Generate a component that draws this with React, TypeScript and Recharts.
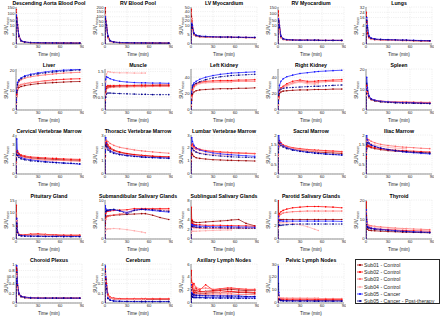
import React from 'react';
import { LineChart, Line, XAxis, YAxis, CartesianGrid } from 'recharts';

// frame times (min)
const TIME = [0, 0.5, 1, 2, 4, 7, 12, 20, 30, 40, 50, 55, 65, 75, 87];

const SUBJECTS = [
  'Sub01 - Control',
  'Sub02 - Control',
  'Sub03 - Control',
  'Sub04 - Control',
  'Sub05 - Cancer',
  'Sub05 - Cancer - Post-therapy',
];
const COLORS = ['#9c0000', '#ff0000', '#ff6161', '#ffa8a8', '#1414ff', '#00008c'];
const DASHES = [undefined, undefined, undefined, undefined, undefined, '2 1'];

const _ = null;

// SUVmean per organ, one row per subject (Sub01..Sub05 post)
const AORTA = [
  [0, 110, 60, 15, 4, 1.6, 0.9, 0.7, 0.6, 0.55, 0.5, 0.5, 0.5, 0.45, 0.45],
  [0, 130, 70, 18, 4.5, 1.8, 1, 0.75, 0.65, 0.6, 0.55, 0.55, 0.5, 0.5, 0.5],
  [0, 120, 55, 14, 3.8, 1.5, 0.9, 0.7, 0.6, 0.55, 0.5, 0.5, 0.45, 0.45, 0.4],
  [0, 100, 50, 12, 3.5, 1.4, 0.85, 0.65, 0.55, 0.5, 0.5, 0.45, _, _, _],
  [0, 90, 60, 16, 4.5, 1.8, 1.1, 0.8, 0.7, 0.6, 0.6, 0.55, 0.55, 0.5, 0.5],
  [0, 70, 45, 13, 4, 1.6, 1, 0.75, 0.65, 0.6, 0.55, 0.55, 0.5, 0.5, 0.45],
];
const RV_POOL = [
  [0, 150, 50, 12, 3.5, 1.5, 0.9, 0.7, 0.6, 0.55, 0.5, 0.5, 0.5, 0.45, 0.45],
  [0, 200, 60, 14, 4, 1.7, 1, 0.75, 0.65, 0.6, 0.55, 0.55, 0.5, 0.5, 0.5],
  [0, 170, 45, 11, 3.3, 1.4, 0.9, 0.7, 0.6, 0.55, 0.5, 0.5, 0.45, 0.45, 0.4],
  [0, 120, 40, 10, 3, 1.3, 0.85, 0.65, 0.55, 0.5, 0.5, 0.45, _, _, _],
  [0, 100, 55, 15, 4.5, 1.8, 1.1, 0.8, 0.7, 0.6, 0.6, 0.55, 0.55, 0.5, 0.5],
  [0, 80, 45, 12, 4, 1.6, 1, 0.75, 0.65, 0.6, 0.55, 0.55, 0.5, 0.5, 0.45],
];
const LV_MYO = [
  [0, 30, 20, 8, 5, 4.2, 3.9, 3.8, 3.7, 3.6, 3.6, 3.6, 3.5, 3.5, 3.4],
  [0, 45, 25, 9, 5.5, 4.5, 4.1, 3.9, 3.8, 3.7, 3.7, 3.7, 3.6, 3.6, 3.5],
  [0, 38, 20, 8, 5, 4.3, 4, 3.8, 3.7, 3.6, 3.6, 3.5, 3.5, 3.4, 3.4],
  [0, 25, 15, 7, 4.8, 4.1, 3.8, 3.7, 3.6, 3.5, 3.5, 3.5, _, _, _],
  [0, 12, 15, 10, 6, 4.8, 4.3, 4.1, 3.9, 3.8, 3.8, 3.7, 3.7, 3.6, 3.6],
  [0, 9, 12, 8.5, 5.5, 4.5, 4.1, 3.9, 3.8, 3.7, 3.7, 3.6, 3.6, 3.5, 3.5],
];
const RV_MYO = [
  [0, 90, 40, 8, 3.5, 2.5, 2.2, 2.1, 2, 2, 2, 2, 1.9, 1.9, 1.9],
  [0, 120, 50, 10, 4, 2.7, 2.3, 2.2, 2.1, 2.1, 2, 2, 2, 2, 2],
  [0, 100, 40, 8, 3.5, 2.5, 2.2, 2.1, 2, 2, 1.9, 1.9, 1.9, 1.9, 1.8],
  [0, 70, 30, 7, 3.2, 2.4, 2.1, 2, 2, 1.9, 1.9, 1.9, _, _, _],
  [0, 60, 45, 11, 4.5, 2.9, 2.4, 2.2, 2.1, 2.1, 2.1, 2, 2, 2, 2],
  [0, 45, 35, 9, 4, 2.7, 2.3, 2.1, 2, 2, 2, 2, 1.9, 1.9, 1.9],
];
const LUNGS = [
  [0, 18, 8, 2.2, 1.4, 1.1, 1, 0.9, 0.85, 0.8, 0.75, 0.75, 0.7, 0.7, 0.65],
  [0, 24, 10, 2.5, 1.5, 1.2, 1, 0.95, 0.9, 0.85, 0.8, 0.8, 0.75, 0.7, 0.7],
  [0, 20, 8, 2, 1.3, 1.1, 0.95, 0.9, 0.85, 0.8, 0.75, 0.75, 0.7, 0.7, 0.65],
  [0, 14, 6, 1.8, 1.2, 1, 0.9, 0.85, 0.8, 0.75, 0.7, 0.7, _, _, _],
  [0, 12, 16, 4, 1.8, 1.3, 1.1, 1, 0.95, 0.9, 0.85, 0.85, 0.8, 0.75, 0.7],
  [0, 9, 12, 3.5, 1.6, 1.2, 1, 0.95, 0.9, 0.85, 0.8, 0.8, 0.75, 0.7, 0.7],
];
const LIVER = [
  [0, 3, 7, 10, 11.5, 12, 12.5, 13, 13.5, 13.8, 14, 14.1, 14.3, 14.5, 14.6],
  [0, 4, 8, 11, 12.5, 13, 13.5, 14, 14.5, 15, 15.3, 15.5, 15.7, 15.9, 16],
  [0, 4, 9, 13, 14.5, 15.5, 16.3, 17, 17.6, 18, 18.4, 18.6, 18.9, 19.1, 19.3],
  [0, 3, 7, 11, 12.5, 13, 13.5, 14, 14.5, 14.8, 15, 15.1, _, _, _],
  [0, 5, 10, 14, 15.5, 16.5, 17.5, 18.3, 19, 19.5, 20, 20.1, 20.4, 20.6, 20.8],
  [0, 4, 9, 13, 15, 16, 17, 17.8, 18.5, 19, 19.4, 19.6, 19.9, 20.2, 20.5],
];
const MUSCLE = [
  [0, 0.4, 0.7, 0.85, 0.9, 0.91, 0.92, 0.93, 0.93, 0.94, 0.94, 0.94, 0.95, 0.95, 0.95],
  [0, 0.5, 0.8, 0.92, 0.95, 0.95, 0.95, 0.96, 0.96, 0.96, 0.97, 0.97, 0.97, 0.98, 0.98],
  [0, 0.4, 0.65, 0.8, 0.86, 0.88, 0.89, 0.9, 0.9, 0.91, 0.91, 0.91, 0.92, 0.92, 0.92],
  [0, 0.6, 1.1, 1.4, 1.5, 1.48, 1.46, 1.45, 1.45, 1.44, 1.44, 1.44, _, _, _],
  [0, 0.8, 1.2, 1.3, 1.27, 1.22, 1.17, 1.12, 1.09, 1.07, 1.06, 1.06, 1.05, 1.05, 1.04],
  [0, 0.3, 0.5, 0.62, 0.66, 0.66, 0.65, 0.64, 0.63, 0.62, 0.61, 0.61, 0.6, 0.6, 0.6],
];
const L_KIDNEY = [
  [0, 5, 12, 19, 22, 23.5, 24.5, 25, 25.5, 26, 26, 26, 26.5, 26.5, 27],
  [0, 8, 18, 25, 29, 32, 34, 35, 35.5, 36, 36, 36, 36.5, 36.5, 37],
  [0, 7, 16, 24, 28, 31, 33, 34, 34, 34.5, 34.5, 34.5, 35, 35, 35],
  [0, 6, 15, 22, 27, 30, 32, 33, 33.5, 33.5, 34, 34, _, _, _],
  [0, 10, 22, 30, 33, 35, 37.5, 40, 42, 43.5, 44.5, 45, 45.5, 46, 46.5],
  [0, 8, 20, 28, 31, 32.5, 34.5, 37, 39, 40.5, 41.5, 42, 42.5, 43, 43.5],
];
const R_KIDNEY = [
  [0, 6, 14, 20, 22, 23, 23.5, 24, 24.5, 24.5, 25, 25, 25, 25.5, 25.5],
  [0, 7, 16, 24, 27, 29, 32, 35, 36.5, 35, 35, 35.5, 36, 36.5, 37],
  [0, 7, 15, 23, 26, 28, 30.5, 33, 35, 33.5, 33, 34, 34.5, 35, 35],
  [0, 6, 14, 22, 26, 27, 29, 32, 34, 32, 31.5, 32, _, _, _],
  [0, 10, 22, 30, 35, 38, 40.5, 42.5, 44.5, 45.5, 46.5, 47, 47.5, 48, 48.5],
  [0, 8, 18, 24, 25.5, 26.5, 27, 27.5, 28, 28.5, 29, 29, 29.5, 30, 30.5],
];
const SPLEEN = [
  [0, 8, 11, 8, 6, 5, 4.4, 4, 3.8, 3.6, 3.5, 3.5, 3.4, 3.3, 3.2],
  [0, 10, 12, 9, 6.5, 5.3, 4.7, 4.3, 4.1, 3.9, 3.8, 3.8, 3.7, 3.6, 3.5],
  [0, 9, 11, 8.5, 6.2, 5.2, 4.6, 4.3, 4.1, 4, 3.9, 3.9, 3.8, 3.8, 3.7],
  [0, 7, 10, 7.5, 5.8, 5, 4.5, 4.2, 4, 3.9, 3.8, 3.8, _, _, _],
  [0, 10, 16, 11, 7, 5.5, 4.8, 4.3, 4, 3.8, 3.6, 3.6, 3.5, 3.4, 3.3],
  [0, 8, 13, 9.5, 6.5, 5.2, 4.5, 4, 3.7, 3.5, 3.4, 3.4, 3.3, 3.2, 3.1],
];
const CERVICAL = [
  [0, 1.2, 2.0, 2.2, 2.0, 1.85, 1.75, 1.65, 1.6, 1.55, 1.5, 1.5, 1.45, 1.42, 1.4],
  [0, 1.5, 2.3, 2.4, 2.1, 1.95, 1.85, 1.75, 1.7, 1.65, 1.6, 1.6, 1.55, 1.52, 1.5],
  [0, 1.2, 2.0, 2.1, 1.9, 1.8, 1.7, 1.6, 1.5, 1.45, 1.42, 1.4, 1.38, 1.35, 1.3],
  [0, 1.0, 1.8, 2.0, 1.85, 1.7, 1.6, 1.5, 1.45, 1.4, 1.35, 1.35, _, _, _],
  [0, 2.0, 3.6, 2.3, 1.9, 1.7, 1.55, 1.45, 1.35, 1.28, 1.2, 1.18, 1.12, 1.08, 1.0],
  [0, 1.5, 2.0, 1.9, 1.7, 1.55, 1.45, 1.35, 1.28, 1.22, 1.18, 1.16, 1.12, 1.1, 1.05],
];
const THORACIC = [
  [0, 1.3, 2.2, 2.3, 2.1, 1.95, 1.8, 1.65, 1.55, 1.48, 1.42, 1.4, 1.35, 1.32, 1.3],
  [0, 1.4, 2.4, 2.5, 2.25, 2.05, 1.85, 1.7, 1.58, 1.5, 1.44, 1.42, 1.38, 1.35, 1.32],
  [0, 1.5, 2.5, 2.6, 2.5, 2.35, 2.2, 2.05, 1.95, 1.85, 1.78, 1.75, 1.7, 1.65, 1.6],
  [0, 1.2, 2.0, 2.1, 1.95, 1.8, 1.65, 1.52, 1.45, 1.4, 1.36, 1.35, _, _, _],
  [0, 1.8, 2.8, 2.4, 2.0, 1.8, 1.65, 1.52, 1.43, 1.37, 1.32, 1.3, 1.27, 1.25, 1.22],
  [0, 1.4, 2.2, 2.1, 1.85, 1.7, 1.58, 1.48, 1.4, 1.35, 1.3, 1.28, 1.25, 1.23, 1.2],
];
const LUMBAR = [
  [0, 1.0, 1.6, 1.5, 1.35, 1.25, 1.2, 1.15, 1.1, 1.08, 1.05, 1.05, 1.03, 1.02, 1.0],
  [0, 1.4, 2.2, 2.3, 2.1, 2.0, 1.9, 1.8, 1.75, 1.7, 1.67, 1.65, 1.62, 1.6, 1.58],
  [0, 1.3, 2.1, 2.2, 2.0, 1.9, 1.82, 1.75, 1.7, 1.66, 1.63, 1.62, 1.6, 1.58, 1.55],
  [0, 1.1, 1.8, 1.9, 1.8, 1.7, 1.62, 1.55, 1.5, 1.47, 1.45, 1.44, _, _, _],
  [0, 1.8, 2.8, 2.5, 2.2, 2.0, 1.85, 1.72, 1.62, 1.55, 1.5, 1.48, 1.44, 1.4, 1.36],
  [0, 1.3, 2.0, 1.95, 1.8, 1.68, 1.58, 1.5, 1.43, 1.38, 1.34, 1.32, 1.3, 1.28, 1.25],
];
const SACRAL = [
  [0, 0.9, 1.4, 1.55, 1.5, 1.42, 1.35, 1.28, 1.22, 1.18, 1.14, 1.12, 1.1, 1.08, 1.05],
  [0, 1.0, 1.6, 1.7, 1.6, 1.5, 1.42, 1.35, 1.3, 1.26, 1.23, 1.22, 1.2, 1.18, 1.15],
  [0, 1.0, 1.5, 1.65, 1.55, 1.48, 1.4, 1.33, 1.28, 1.24, 1.2, 1.19, 1.17, 1.15, 1.12],
  [0, 0.9, 1.4, 1.55, 1.5, 1.43, 1.37, 1.3, 1.25, 1.2, 1.17, 1.16, _, _, _],
  [0, 1.4, 2.0, 1.7, 1.55, 1.45, 1.35, 1.25, 1.17, 1.12, 1.08, 1.06, 1.03, 1.0, 0.97],
  [0, 1.1, 1.6, 1.55, 1.45, 1.38, 1.3, 1.22, 1.16, 1.11, 1.07, 1.05, 1.02, 1.0, 0.98],
];
const ILIAC = [
  [0, 0.8, 1.3, 1.45, 1.4, 1.35, 1.3, 1.25, 1.2, 1.17, 1.15, 1.14, 1.12, 1.1, 1.08],
  [0, 0.9, 1.4, 1.5, 1.45, 1.4, 1.35, 1.3, 1.25, 1.22, 1.2, 1.19, 1.17, 1.15, 1.13],
  [0, 1.1, 1.7, 1.8, 1.75, 1.68, 1.6, 1.52, 1.46, 1.42, 1.38, 1.37, 1.35, 1.32, 1.3],
  [0, 1.0, 1.5, 1.65, 1.6, 1.55, 1.48, 1.42, 1.37, 1.33, 1.3, 1.29, _, _, _],
  [0, 1.3, 2.0, 1.75, 1.6, 1.5, 1.42, 1.33, 1.25, 1.19, 1.14, 1.12, 1.09, 1.06, 1.03],
  [0, 1.0, 1.5, 1.6, 1.55, 1.48, 1.4, 1.32, 1.26, 1.21, 1.17, 1.15, 1.12, 1.1, 1.07],
];
const PITUITARY = [
  [0, 8, 5, 2.5, 1.6, 1.4, 1.4, 1.5, 1.6, 1.5, 1.4, 1.4, 1.3, 1.3, 1.3],
  [0, 13, 7, 3, 1.8, 1.6, 1.6, 1.9, 2.0, 1.8, 1.6, 1.6, 1.5, 1.5, 1.5],
  [0, 10, 6, 2.8, 1.7, 1.5, 1.5, 1.7, 1.8, 1.6, 1.5, 1.5, 1.4, 1.4, 1.4],
  [0, 7, 4, 2.2, 1.5, 1.3, 1.3, 1.4, 1.5, 1.4, 1.3, 1.3, _, _, _],
  [0, 6, 8, 3, 1.6, 1.3, 1.2, 1.1, 1.1, 1.0, 1.0, 1.0, 1.0, 0.95, 0.95],
  [0, 4, 6, 2.5, 1.4, 1.2, 1.1, 1.0, 1.0, 0.95, 0.95, 0.95, 0.9, 0.9, 0.9],
];
const SUBMAND = [
  [0, 4, 5.5, 5.8, 5.9, 6.0, 6.1, 6.2, 6.3, 6.4, 6.5, 6.5, 6.1, 5.5, 5.0],
  [0, 5, 6.5, 7.0, 7.1, 7.2, 7.3, 7.4, 7.5, 7.8, 7.8, 7.8, 7.8, 7.8, 7.8],
  [0, 3, 5, 5.6, 5.8, 6.0, 6.2, 6.4, 6.8, 7.4, 7.6, 7.6, 7.6, 7.5, 7.4],
  [0, 1.5, 2.3, 2.5, 2.6, 2.6, 2.7, 2.6, 2.4, 2.1, 1.8, 1.6, _, _, _],
  [0, 8.5, 7.8, 7.4, 7.3, 7.4, 7.5, 7.2, 6.8, 7.4, 7.6, 7.5, 7.3, 7.1, 6.9],
  [0, 6, 7, 7.2, 7.4, 7.5, 7.6, 7.3, 6.4, 7.3, 7.6, 7.6, 7.5, 7.3, 7.1],
];
const SUBLING = [
  [0, 3, 3.8, 3.7, 3.5, 3.4, 3.4, 3.5, 3.6, 3.7, 3.8, 3.9, 4.0, 3.2, 2.7],
  [0, 6.5, 4, 3.2, 3.0, 2.9, 2.9, 2.8, 2.8, 2.8, 2.75, 2.75, 2.7, 2.7, 2.6],
  [0, 2, 2.5, 2.4, 2.3, 2.3, 2.2, 2.2, 2.2, 2.2, 2.2, 2.2, 2.2, 2.2, 2.2],
  [0, 1.2, 1.6, 1.6, 1.6, 1.6, 1.65, 1.7, 1.75, 1.8, 1.85, 1.85, _, _, _],
  [0, 2.5, 3.0, 2.9, 2.8, 2.7, 2.6, 2.6, 2.5, 2.5, 2.5, 2.5, 2.45, 2.45, 2.4],
  [0, 2.0, 2.6, 2.6, 2.5, 2.4, 2.35, 2.3, 2.3, 2.3, 2.25, 2.25, 2.25, 2.2, 2.2],
];
const PAROTID = [
  [0, 2.0, 2.8, 2.9, 3.0, 3.0, 3.0, 3.0, 3.0, 3.0, 3.0, 3.0, 3.0, 3.0, 3.0],
  [0, 6, 3.5, 3.9, 4.2, 4.4, 4.6, 4.8, 4.9, 5.0, 5.0, 5.0, 4.95, 4.9, 4.8],
  [0, 2.5, 3.2, 3.6, 3.8, 4.0, 4.1, 4.2, 4.25, 4.3, 4.3, 4.3, 4.3, 4.3, 4.3],
  [0, 1.6, 2.3, 2.5, 2.5, 2.5, 2.5, 2.4, 2.2, 1.9, 1.5, 1.3, _, _, _],
  [0, 3.5, 3.0, 2.8, 2.8, 2.75, 2.75, 2.75, 2.75, 2.75, 2.75, 2.75, 2.75, 2.75, 2.7],
  [0, 2.5, 2.2, 2.1, 2.1, 2.15, 2.2, 2.25, 2.3, 2.3, 2.3, 2.3, 2.3, 2.3, 2.3],
];
const THYROID = [
  [0, 12, 7, 5, 4.5, 4.3, 4.2, 4.0, 3.8, 3.7, 3.5, 3.5, 3.4, 3.3, 3.2],
  [0, 19, 10, 7, 6, 5.5, 5.2, 5.0, 4.8, 4.6, 4.4, 4.3, 4.2, 4.1, 4.0],
  [0, 14, 9, 7.5, 7, 6.8, 6.5, 6.2, 5.9, 5.6, 5.4, 5.3, 5.1, 5.0, 4.8],
  [0, 10, 8, 7, 6.7, 6.5, 6.2, 5.9, 5.6, 5.4, 5.2, 5.1, _, _, _],
  [0, 15, 9, 6.5, 6, 5.6, 5.3, 5.0, 4.6, 4.3, 4.0, 3.9, 3.7, 3.6, 3.4],
  [0, 10, 7.5, 6, 5.5, 5.2, 4.9, 4.6, 4.3, 4.0, 3.8, 3.7, 3.5, 3.4, 3.2],
];
const CHOROID = [
  [0, 0.7, 0.85, 0.35, 0.18, 0.13, 0.11, 0.1, 0.1, 0.1, 0.1, 0.1, 0.1, 0.1, 0.1],
  [0, 0.9, 0.8, 0.38, 0.19, 0.14, 0.12, 0.11, 0.11, 0.1, 0.1, 0.1, 0.1, 0.1, 0.1],
  [0, 0.75, 0.7, 0.33, 0.17, 0.13, 0.11, 0.1, 0.1, 0.1, 0.1, 0.1, 0.1, 0.1, 0.1],
  [0, 0.6, 0.65, 0.3, 0.16, 0.12, 0.11, 0.1, 0.1, 0.1, 0.1, 0.1, _, _, _],
  [0, 0.5, 0.95, 0.4, 0.2, 0.14, 0.12, 0.11, 0.1, 0.1, 0.1, 0.1, 0.1, 0.1, 0.1],
  [0, 0.4, 0.75, 0.36, 0.18, 0.13, 0.11, 0.1, 0.1, 0.1, 0.1, 0.1, 0.1, 0.1, 0.1],
];
const CEREBRUM = [
  [0, 2.5, 1.0, 0.2, 0.08, 0.05, 0.04, 0.04, 0.035, 0.035, 0.035, 0.035, 0.035, 0.035, 0.035],
  [0, 3, 1.2, 0.22, 0.09, 0.06, 0.05, 0.045, 0.045, 0.045, 0.045, 0.045, 0.045, 0.045, 0.045],
  [0, 2.2, 0.8, 0.18, 0.08, 0.055, 0.045, 0.04, 0.04, 0.04, 0.04, 0.04, 0.04, 0.04, 0.04],
  [0, 1.8, 0.6, 0.16, 0.07, 0.05, 0.04, 0.035, 0.035, 0.035, 0.035, 0.035, _, _, _],
  [0, 3.6, 1.5, 0.18, 0.05, 0.03, 0.02, 0.018, 0.016, 0.015, 0.015, 0.015, 0.015, 0.015, 0.015],
  [0, 2.5, 1.0, 0.15, 0.045, 0.028, 0.02, 0.017, 0.015, 0.015, 0.014, 0.014, 0.014, 0.014, 0.014],
];
// two nodes per subject
const AXILLARY = [
  [0, 2.5, 1.8, 2.2, 1.5, 1.9, 1.7, 1.8, 1.9, 2.0, 2.1, 2.1, 2.0, 1.9, 1.9],
  [0, 1.5, 2.6, 1.4, 2.0, 1.6, 1.5, 1.5, 1.6, 1.6, 1.7, 1.7, 1.6, 1.6, 1.5],
  [0, 5, 3.2, 2.5, 3.0, 2.2, 2.0, 2.8, 2.0, 2.2, 2.3, 2.3, 2.2, 2.1, 2.1],
  [0, 3.5, 2.0, 2.8, 1.6, 1.9, 1.8, 1.7, 1.8, 1.9, 1.8, 1.8, 1.7, 1.7, 1.6],
  [0, 4, 2.6, 3.1, 2.1, 2.4, 2.2, 2.3, 2.1, 2.2, 2.3, 2.3, 2.2, 2.1, 2.0],
  [0, 2, 1.4, 1.9, 1.2, 1.5, 1.4, 1.3, 1.4, 1.4, 1.4, 1.4, 1.3, 1.3, 1.3],
  [0, 3, 2.2, 1.7, 2.4, 1.8, 1.6, 1.7, 1.7, 1.6, 1.6, 1.6, _, _, _],
  [0, 1.8, 1.2, 1.5, 1.0, 1.3, 1.2, 1.2, 1.2, 1.2, 1.1, 1.1, _, _, _],
  [0, 2.8, 1.6, 1.4, 1.3, 1.2, 1.2, 1.1, 1.1, 1.1, 1.1, 1.1, 1.1, 1.0, 1.0],
  [0, 1.6, 1.2, 1.0, 0.9, 0.9, 0.85, 0.85, 0.8, 0.8, 0.8, 0.8, 0.8, 0.8, 0.8],
  [0, 2.0, 1.4, 1.3, 1.2, 1.2, 1.1, 1.1, 1.1, 1.05, 1.05, 1.05, 1.0, 1.0, 1.0],
  [0, 1.2, 1.0, 0.9, 0.8, 0.8, 0.8, 0.75, 0.75, 0.75, 0.75, 0.75, 0.7, 0.7, 0.7],
];
const AXILLARY_SUBJ = [0, 0, 1, 1, 2, 2, 3, 3, 4, 4, 5, 5];
const PELVIC = [
  [0, 5, 3, 2.5, 2.2, 2.1, 2.0, 2.0, 2.0, 2.0, 2.0, 2.0, 2.0, 2.0, 2.0],
  [0, 8, 4, 3.2, 3.0, 2.9, 2.8, 2.8, 2.8, 2.8, 2.7, 2.7, 2.7, 2.7, 2.7],
  [0, 6, 4.5, 3.8, 3.6, 3.5, 3.5, 3.5, 3.4, 3.4, 3.4, 3.4, 3.4, 3.4, 3.4],
  [0, 5, 4.5, 4.2, 4.0, 4.0, 4.0, 4.0, 4.0, 3.9, 3.9, 3.9, _, _, _],
  [0, 28, 8, 3, 2, 1.8, 1.7, 1.6, 1.6, 1.6, 1.5, 1.5, 1.5, 1.5, 1.5],
  [0, 15, 6, 2.5, 1.8, 1.6, 1.5, 1.5, 1.4, 1.4, 1.4, 1.4, 1.4, 1.4, 1.4],
];

type PanelCfg = {
  title: string;
  series: (number | null)[][];
  top: number;
  ticks: number[];
  brk?: number; // broken axis: 0..brk fills the lower half
  subj?: number[];
};

const PANELS: PanelCfg[] = [
  { title: 'Descending Aorta Blood Pool', series: AORTA, top: 150, brk: 10, ticks: [0, 5, 10, 50, 100, 150] },
  { title: 'RV Blood Pool', series: RV_POOL, top: 200, brk: 10, ticks: [0, 5, 10, 50, 100, 150, 200] },
  { title: 'LV Myocardium', series: LV_MYO, top: 50, brk: 10, ticks: [0, 5, 10, 20, 30, 40, 50] },
  { title: 'RV Myocardium', series: RV_MYO, top: 150, brk: 10, ticks: [0, 5, 10, 50, 100, 150] },
  { title: 'Lungs', series: LUNGS, top: 32, brk: 4, ticks: [0, 2, 4, 16, 24, 32] },
  { title: 'Liver', series: LIVER, top: 21, ticks: [0, 10, 20] },
  { title: 'Muscle', series: MUSCLE, top: 1.6, ticks: [0, 0.5, 1, 1.5] },
  { title: 'Left Kidney', series: L_KIDNEY, top: 50, ticks: [0, 20, 40] },
  { title: 'Right Kidney', series: R_KIDNEY, top: 50, ticks: [0, 20, 40] },
  { title: 'Spleen', series: SPLEEN, top: 20, ticks: [0, 10, 20] },
  { title: 'Cervical Vertebrae Marrow', series: CERVICAL, top: 4, ticks: [0, 1, 2, 3, 4] },
  { title: 'Thoracic Vertebrae Marrow', series: THORACIC, top: 3, ticks: [0, 1, 2, 3] },
  { title: 'Lumbar Vertebrae Marrow', series: LUMBAR, top: 3, ticks: [0, 1, 2, 3] },
  { title: 'Sacral Marrow', series: SACRAL, top: 2, ticks: [0, 0.5, 1, 1.5, 2] },
  { title: 'Iliac Marrow', series: ILIAC, top: 2, ticks: [0, 0.5, 1, 1.5, 2] },
  { title: 'Pituitary Gland', series: PITUITARY, top: 15, ticks: [0, 5, 10, 15] },
  { title: 'Submandibular Salivary Glands', series: SUBMAND, top: 10, ticks: [0, 5, 10] },
  { title: 'Sublingual Salivary Glands', series: SUBLING, top: 8, ticks: [0, 2, 4, 6, 8] },
  { title: 'Parotid Salivary Glands', series: PAROTID, top: 6, ticks: [0, 2, 4, 6] },
  { title: 'Thyroid', series: THYROID, top: 20, ticks: [0, 10, 20] },
  { title: 'Choroid Plexus', series: CHOROID, top: 1, brk: 0.4, ticks: [0, 0.2, 0.4, 0.6, 0.8, 1] },
  { title: 'Cerebrum', series: CEREBRUM, top: 4, brk: 0.2, ticks: [0, 0.1, 0.2, 1, 2, 3, 4] },
  { title: 'Axillary Lymph Nodes', series: AXILLARY, subj: AXILLARY_SUBJ, top: 6, ticks: [0, 2, 4, 6] },
  { title: 'Pelvic Lymph Nodes', series: PELVIC, top: 30, ticks: [0, 10, 20, 30] },
];

const COL_X = [16, 105, 191, 278, 366];
const ROW_TOP = [7, 69, 135, 200, 264];
const ROW_H = [37, 41, 39, 39, 39];
const PLOT_W = 66;
const YW = 14;
const XH = 8;
const INK = '#262626';

function Panel({ cfg, idx }: { cfg: PanelCfg; idx: number }) {
  const col = idx % 5;
  const row = Math.floor(idx / 5);
  const left = COL_X[col];
  const top = ROW_TOP[row];
  const h = ROW_H[row];

  const tf = (v: number) => {
    if (!cfg.brk) return v;
    return v <= cfg.brk ? (0.5 * v) / cfg.brk : 0.5 + (0.5 * (v - cfg.brk)) / (cfg.top - cfg.brk);
  };
  const data = TIME.map((t, i) => {
    const d: any = { t };
    cfg.series.forEach((s, k) => {
      d['s' + k] = s[i] == null ? null : tf(s[i] as number);
    });
    return d;
  });
  const yMax = cfg.brk ? 1 : cfg.top;

  return (
    <>
      <div
        style={{
          position: 'absolute',
          left: left + PLOT_W / 2,
          top: top - 7,
          transform: 'translateX(-50%)',
          fontSize: 5.2,
          fontWeight: 'bold',
          lineHeight: '6px',
          whiteSpace: 'nowrap',
        }}
      >
        {cfg.title}
      </div>
      <div
        style={{
          position: 'absolute',
          left: left - 9,
          top: top + h / 2,
          transform: 'translate(-50%, -50%) rotate(-90deg)',
          fontSize: 4.6,
          lineHeight: '5px',
          whiteSpace: 'nowrap',
          color: INK,
        }}
      >
        SUV<span style={{ fontSize: 3.2, position: 'relative', top: 1 }}>mean</span>
      </div>
      <div
        style={{
          position: 'absolute',
          left: left + PLOT_W / 2,
          top: top + h + 7.5,
          transform: 'translateX(-50%)',
          fontSize: 4.6,
          lineHeight: '5px',
          whiteSpace: 'nowrap',
          color: INK,
        }}
      >
        Time (min)
      </div>
      <div style={{ position: 'absolute', left: left - YW, top: top - 2 }}>
        <LineChart
          width={YW + PLOT_W + 2}
          height={h + 2 + XH}
          data={data}
          margin={{ top: 2, right: 2, bottom: 0, left: 0 }}
        >
          <CartesianGrid stroke="#cfcfcf" strokeWidth={0.5} strokeDasharray="0.6 1.2" />
          <XAxis
            dataKey="t"
            type="number"
            domain={[0, 90]}
            ticks={[0, 30, 60, 90]}
            allowDataOverflow
            interval={0}
            height={XH}
            tickLine={false}
            tickSize={0}
            tickMargin={1.5}
            tick={{ fontSize: 4.2, fill: INK }}
            axisLine={{ stroke: INK, strokeWidth: 0.5 }}
          />
          <YAxis
            type="number"
            domain={[0, yMax]}
            ticks={cfg.ticks.map(tf)}
            tickFormatter={(_v: number, i: number) => String(cfg.ticks[i])}
            allowDataOverflow
            interval={0}
            width={YW}
            tickLine={false}
            tickSize={0}
            tickMargin={1.5}
            tick={{ fontSize: 4.2, fill: INK }}
            axisLine={{ stroke: INK, strokeWidth: 0.5 }}
          />
          {cfg.series.map((_s, k) => {
            const g = cfg.subj ? cfg.subj[k] : k;
            return (
              <Line
                key={k}
                dataKey={'s' + k}
                stroke={COLORS[g]}
                strokeWidth={0.7}
                strokeDasharray={DASHES[g]}
                dot={{ r: 0.8, fill: COLORS[g], stroke: 'none' }}
                connectNulls={false}
                isAnimationActive={false}
              />
            );
          })}
        </LineChart>
      </div>
    </>
  );
}

function LegendBox() {
  return (
    <div
      style={{
        position: 'absolute',
        left: 355,
        top: 259,
        width: 85,
        height: 45,
        border: `0.6px solid ${INK}`,
        background: '#fff',
        boxSizing: 'border-box',
      }}
    >
      {SUBJECTS.map((name, k) => (
        <div
          key={k}
          style={{
            position: 'absolute',
            left: 1,
            top: 2 + k * 7.2,
            height: 6,
            display: 'flex',
            alignItems: 'center',
            whiteSpace: 'nowrap',
            fontSize: 5.2,
            color: INK,
          }}
        >
          <svg width={6} height={4} style={{ marginRight: 1 }}>
            <line x1={0} y1={2} x2={6} y2={2} stroke={COLORS[k]} strokeWidth={0.8} strokeDasharray={DASHES[k]} />
            <circle cx={3} cy={2} r={1} fill={COLORS[k]} />
          </svg>
          {name}
        </div>
      ))}
    </div>
  );
}

export default function App() {
  return (
    <div
      style={{
        position: 'absolute',
        left: 0,
        top: 0,
        width: 440,
        height: 317,
        overflow: 'hidden',
        background: '#fff',
        fontFamily: "'Liberation Sans', Arial, sans-serif",
        color: '#000',
      }}
    >
      {PANELS.map((p, i) => (
        <Panel key={i} cfg={p} idx={i} />
      ))}
      <LegendBox />
    </div>
  );
}
